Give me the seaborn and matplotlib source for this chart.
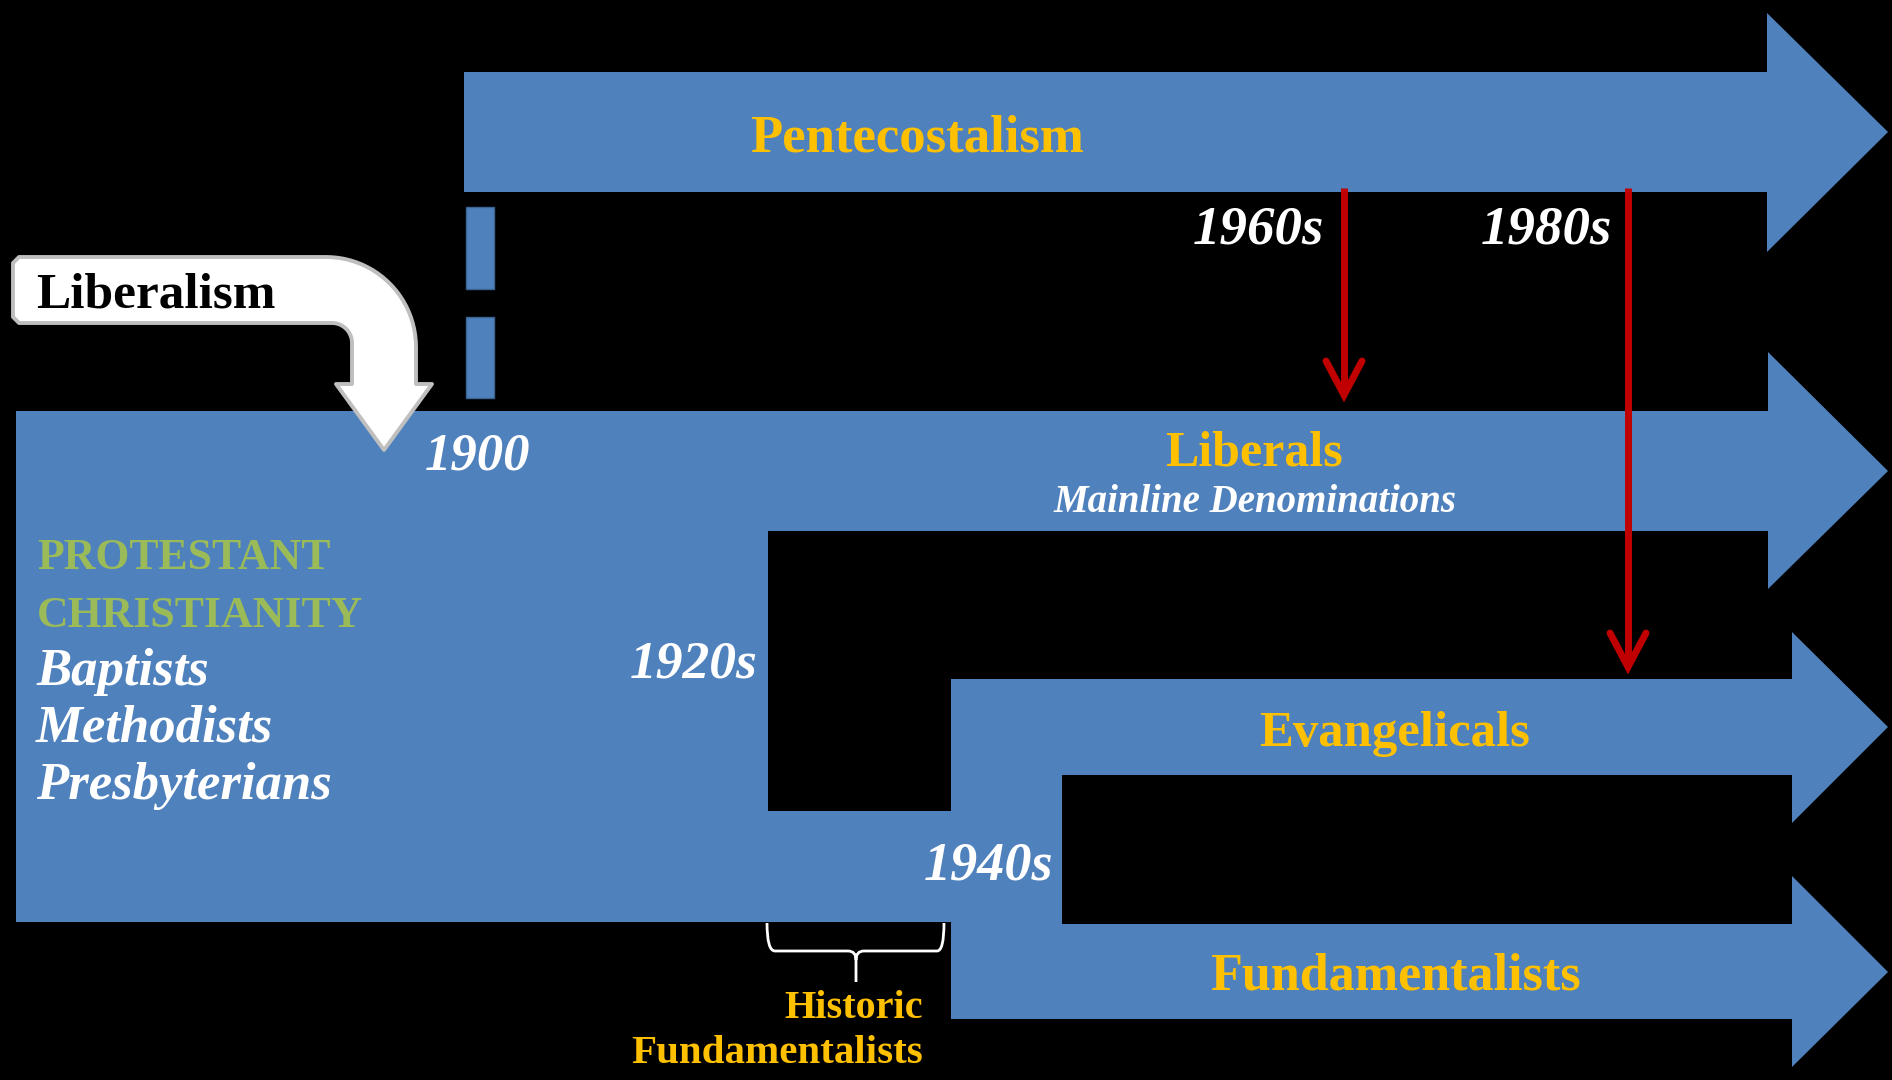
import numpy as np
import matplotlib
matplotlib.use("Agg")
import matplotlib.pyplot as plt
from matplotlib.patches import Polygon, Rectangle, PathPatch
from matplotlib.path import Path
import seaborn as sns

sns.set_style("dark", {"axes.facecolor": "black", "figure.facecolor": "black"})
plt.rcParams["font.family"] = ["Liberation Serif", "DejaVu Serif"]

# labels of the diagram
branches = ["Pentecostalism", "Liberals", "Evangelicals", "Fundamentalists"]
subtitle = "Mainline Denominations"
root = ["PROTESTANT", "CHRISTIANITY"]
denominations = ["Baptists", "Methodists", "Presbyterians"]
eras = ["1900", "1920s", "1940s", "1960s", "1980s"]
influence = "Liberalism"
historic = ["Historic", "Fundamentalists"]

BLUE = "#4F81BD"
GOLD = "#FFC000"
GREEN = "#9BBB59"
RED = "#C00000"

fig = plt.figure(figsize=(18.92, 10.80), dpi=100)
ax = fig.add_axes([0, 0, 1, 1])
ax.set_xlim(0, 1892)
ax.set_ylim(1080, 0)
ax.axis("off")

# pentecostalism arrow
pent = [(464, 72), (1767, 72), (1767, 13), (1888, 132), (1767, 252),
        (1767, 192), (464, 192)]
ax.add_patch(Polygon(pent, closed=True, fc=BLUE, ec="none"))

# dashed link down to 1900
for y0, y1 in [(207, 289), (317, 398)]:
    ax.add_patch(Rectangle((466, y0), 28, y1 - y0, fc=BLUE, ec="#3A6391", lw=1))

# main trunk + liberals / evangelicals / fundamentalists
trunk = [(16, 411), (1768, 411), (1768, 352), (1888, 471), (1768, 589),
         (1768, 531), (768, 531), (768, 811), (951, 811), (951, 679),
         (1792, 679), (1792, 632), (1888, 727), (1792, 823), (1792, 775),
         (1062, 775), (1062, 924), (1792, 924), (1792, 876), (1888, 972),
         (1792, 1067), (1792, 1019), (951, 1019), (951, 922), (16, 922)]
ax.add_patch(Polygon(trunk, closed=True, fc=BLUE, ec="none"))

# curved white "Liberalism" arrow
t = np.linspace(-np.pi / 2, 0, 24)
outer = [(326 + 90 * np.cos(a), 347 + 90 * np.sin(a)) for a in t]
inner = [(332 + 20 * np.cos(a), 343 + 20 * np.sin(a)) for a in t[::-1]]
lib = ([(19, 257)] + outer +
       [(416, 384), (432, 384), (384, 450), (336, 384), (352, 384)] +
       inner + [(19, 323), (13, 317), (13, 263)])
ax.add_patch(Polygon(lib, closed=True, fc="white", ec="#BFBFBF", lw=2.8,
                     joinstyle="round", zorder=3))

# red arrows (1960s, 1980s)
for x, y_tip in [(1344, 395), (1628, 667)]:
    ax.plot([x, x], [188, y_tip - 4], color=RED, lw=5, solid_capstyle="butt", zorder=4)
    ax.plot([x - 18, x, x + 18], [y_tip - 34, y_tip, y_tip - 34], color=RED, lw=5,
            solid_joinstyle="miter", solid_capstyle="round", zorder=4)

# brace under the 1920s-1940s gap
verts = [(767, 923), (767, 951), (775, 951), (848, 951), (856, 951), (856, 960),
         (856, 982), (856, 960), (856, 951), (864, 951), (937, 951), (944, 951),
         (944, 923)]
codes = [Path.MOVETO, Path.CURVE3, Path.CURVE3, Path.LINETO, Path.CURVE3, Path.CURVE3,
         Path.LINETO, Path.MOVETO, Path.CURVE3, Path.CURVE3, Path.LINETO, Path.CURVE3,
         Path.CURVE3]
ax.add_patch(PathPatch(Path(verts, codes), fill=False, ec="white", lw=2))

bold = dict(fontweight="bold", va="baseline")
bi = dict(fontweight="bold", fontstyle="italic", va="baseline", color="white")

ax.text(917, 151, branches[0], color=GOLD, fontsize=38, ha="center", **bold)
ax.text(1254, 466, branches[1], color=GOLD, fontsize=36, ha="center", **bold)
ax.text(1255, 512, subtitle, fontsize=28, ha="center", **bi)
ax.text(1395, 746, branches[2], color=GOLD, fontsize=36.5, ha="center", **bold)
ax.text(1395, 990, branches[3], color=GOLD, fontsize=37.5, ha="center", **bold)

ax.text(36, 307, influence, color="black", fontsize=37, ha="left", **bold, zorder=5)

for i, s in enumerate(root):
    ax.text(37, 569 + 58 * i, s, color=GREEN, fontsize=31.5, ha="left", **bold)
for i, s in enumerate(denominations):
    ax.text(36, 685 + 57 * i, s, fontsize=38, ha="left", **bi)

ax.text(478, 470, eras[0], fontsize=38, ha="center", **bi)
ax.text(758, 678, eras[1], fontsize=38.5, ha="right", **bi)
ax.text(1053, 880, eras[2], fontsize=39, ha="right", **bi)
ax.text(1324, 243, eras[3], fontsize=39.5, ha="right", **bi)
ax.text(1612, 243, eras[4], fontsize=39.5, ha="right", **bi)

ax.text(923, 1018, historic[0], color=GOLD, fontsize=29, ha="right", **bold)
ax.text(923, 1063, historic[1], color=GOLD, fontsize=29.5, ha="right", **bold)

fig.savefig("out.png", dpi=100, facecolor="black")
